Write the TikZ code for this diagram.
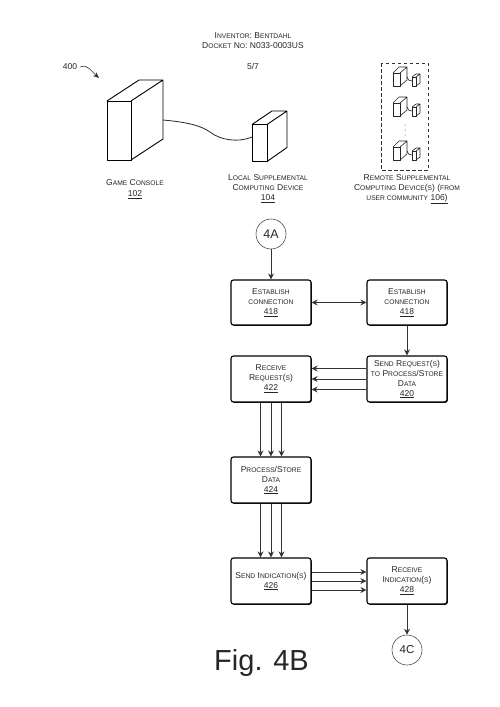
\documentclass[tikz,border=0pt]{standalone}
\usepackage{fontspec}
\setmainfont{Liberation Sans}
\usetikzlibrary{arrows.meta,shadows}
\newcommand\sm[1]{{\fontsize{6.7}{10}\selectfont #1}}
\newcommand\nr[1]{\underline{#1}}
\tikzset{
 x=1pt,y=-1pt,
 every node/.style={text=black!85},
 lab/.style={font=\fontsize{8.5}{10}\selectfont,align=center,inner sep=0pt},
 flow/.style={lab,draw=black,line width=1.1pt,rounded corners=2.5pt,fill=white,minimum width=80pt,minimum height=45pt,
   general shadow={shadow xshift=.8pt,shadow yshift=-.8pt,fill=black}},
 conn/.style={circle,draw=black!70,line width=.6pt,minimum size=30pt,inner sep=0pt,fill=white},
 arr/.style={-{Stealth[length=6pt,width=6pt]},draw=black!80,line width=.8pt},
 darr/.style={{Stealth[length=6pt,width=6pt]}-{Stealth[length=6pt,width=6pt]},draw=black!80,line width=.8pt},
 dev/.style={draw=black,line width=.9pt,line join=round},
 mini/.style={draw=black!85,line width=.6pt,line join=round},
 pics/minidev/.style={code={
   \draw[mini] (0,0) rectangle (7,13);
   \draw[mini] (0,0) -- (6,-6) -- (14,-6) -- (14,7) -- (7,13) (7,0) -- (14,-6);
   \draw[mini] (14,4) .. controls (15,7) and (16,8) .. (19,8);
   \draw[mini] (19,4) rectangle (23,13);
   \draw[mini] (19,4) -- (23,1) -- (27,1) -- (27,10) -- (23,13) (23,4) -- (27,1);
 }}
}
\begin{document}
\begin{tikzpicture}
\useasboundingbox (0,0) rectangle (500,707);
\fill[white] (0,0) rectangle (500,707);
% header
\node[lab] (h1) at (253,36) {I\sm{NVENTOR}: B\sm{ENTDAHL}};
\node[lab] (h2) at (253,46) {D\sm{OCKET} N\sm{O}: N033-0003US};
\node[lab] (h3) at (253,66) {5/7};
\node[lab] (n400) at (70,67) {400};
\coordinate (a400) at (99,78);
\draw[-{Stealth[length=6pt,width=5pt]},line width=.6pt,black!80] (n400.east)+(3,0) .. controls (88,64) and (91,71) .. (a400);
% game console
\draw[dev] (107,101) rectangle (131,160);
\draw[dev] (107,101) -- (139,80) -- (163,80) -- (163,139) -- (131,160) (131,101) -- (163,80);
% local device
\draw[dev] (252,124.5) rectangle (267,161.5);
\draw[dev] (252,124.5) -- (272,111) -- (287,111) -- (287,147.5) -- (267,161.5) (267,124.5) -- (287,111);
% cable
\draw[line width=.8pt,black!85] (163,120) .. controls (185,122) and (200,125) .. (210,132) .. controls (220,140) and (238,143) .. (252,137);
\node[lab] (l102) at (135,189) {G\sm{AME} C\sm{ONSOLE}\\[1pt]\nr{102}};
\node[lab] (l104) at (268,189) {L\sm{OCAL} S\sm{UPPLEMENTAL}\\C\sm{OMPUTING} D\sm{EVICE}\\\nr{104}};
\node[lab] (l106) at (407,189) {R\sm{EMOTE} S\sm{UPPLEMENTAL}\\C\sm{OMPUTING} D\sm{EVICE}(\sm{S}) (\sm{FROM}\\\sm{USER COMMUNITY} \nr{106)}};
% remote group
\draw[line width=.8pt,black!80,dash pattern=on 3.5pt off 2.5pt] (381,63) rectangle (428,170);
\pic at (393,73) {minidev};
\pic at (393,103) {minidev};
\pic at (393,147) {minidev};
\foreach \yy in {125,130,135} \fill[black!75] (405,\yy) circle (.5);
% flow
\node[conn,font=\fontsize{12.5}{14}\selectfont] (a) at (271,234) {4A};
\node[flow] (e1) at (271,302.5) {E\sm{STABLISH}\\\sm{CONNECTION}\\\nr{418}};
\node[flow] (e2) at (407,302.5) {E\sm{STABLISH}\\\sm{CONNECTION}\\\nr{418}};
\node[flow,minimum height=46pt] (r) at (271,379) {R\sm{ECEIVE}\\R\sm{EQUEST}(\sm{S})\\\nr{422}};
\node[flow,minimum height=46pt] (s) at (407,379) {S\sm{END} R\sm{EQUEST}(\sm{S})\\\sm{TO} P\sm{ROCESS}/S\sm{TORE}\\D\sm{ATA}\\\nr{420}};
\node[flow,minimum height=46pt] (p) at (271,480) {P\sm{ROCESS}/S\sm{TORE}\\D\sm{ATA}\\\nr{424}};
\node[flow,minimum height=46pt] (i) at (271,581) {S\sm{END} I\sm{NDICATION}(\sm{S})\\\nr{426}};
\node[flow,minimum height=46pt] (c) at (407,581) {R\sm{ECEIVE}\\I\sm{NDICATION}(\sm{S})\\\nr{428}};
\node[conn,font=\fontsize{11.5}{14}\selectfont] (z) at (407,650) {4C};
\draw[arr] (a) -- (e1);
\draw[darr] (e1) -- (e2);
\draw[arr] (e2) -- (s);
\foreach \d in {-10.5,0,10.5} {
  \draw[arr] ([yshift=\d pt]s.west) -- ([yshift=\d pt]r.east);
  \draw[arr] ([xshift=\d pt]r.south) -- ([xshift=\d pt]p.north);
  \draw[arr] ([xshift=\d pt]p.south) -- ([xshift=\d pt]i.north);
}
\foreach \d in {-9,0,9} \draw[arr] ([yshift=\d pt]i.east) -- ([yshift=\d pt]c.west);
\draw[arr] (c) -- (z);
\node[inner sep=0pt,anchor=base,font=\fontsize{29}{30}\selectfont] (fig) at (261.5,670) {Fig. 4B};
\end{tikzpicture}
\end{document}
